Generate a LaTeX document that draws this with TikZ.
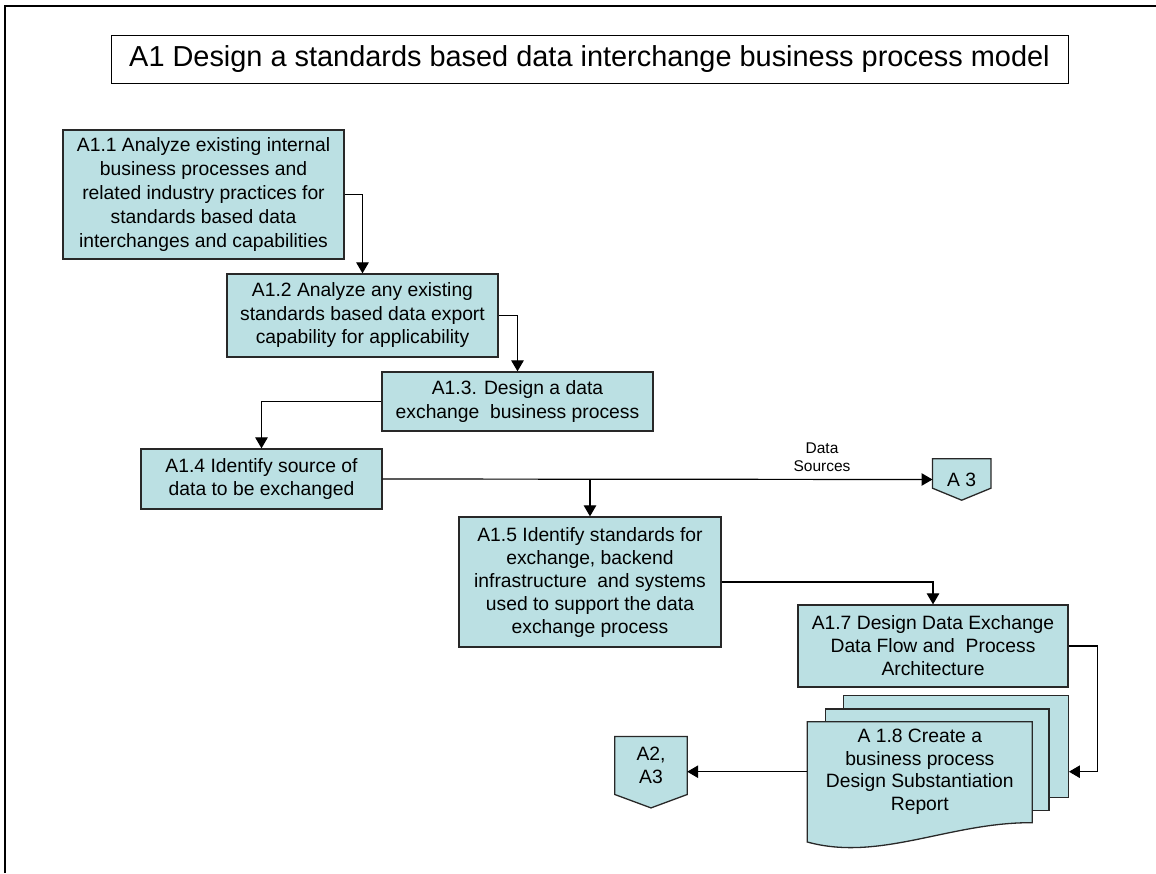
\documentclass[tikz,border=0pt]{standalone}
\usepackage{fontspec}
\setmainfont{Liberation Sans}
\usetikzlibrary{arrows.meta,backgrounds}
\definecolor{boxfill}{RGB}{187,224,227}
\definecolor{boxline}{RGB}{40,40,40}
\begin{document}
\begin{tikzpicture}[x=1pt,y=-1pt,
  proc/.style={draw=boxline, line width=1.3pt, fill=boxfill, align=center, inner sep=0pt,
    font=\fontsize{19.3}{23.5}\selectfont},
  plain/.style={align=center, inner sep=0pt, font=\fontsize{19.3}{23}\selectfont},
  shapefill/.style={draw=boxline, line width=1.3pt, fill=boxfill},
  conn/.style={line width=1.2pt, -{Triangle[length=11pt,width=12.5pt]}},
  lbl/.style={align=center, inner sep=0pt, font=\fontsize{15.5}{18.7}\selectfont}]
\useasboundingbox (0,0) rectangle (1156,873);
% outer frame
\draw[line width=2pt] (5,873) -- (5,6) -- (1156,6);
% title
\node[draw=black, line width=1pt, minimum width=957pt, minimum height=48pt, inner sep=0pt,
  font=\fontsize{28.9}{32}\selectfont] (title) at (589.5,59) {A1 Design a standards based data interchange business process model};
% process boxes
\node[proc, minimum width=281pt, minimum height=129pt, font=\fontsize{19.3}{24.2}\selectfont] (a11) at (203.5,194.5)
  {A1.1 Analyze existing internal\\business processes and\\related industry practices for\\standards based data\\interchanges and capabilities};
\node[proc, minimum width=271pt, minimum height=83pt] (a12) at (362.5,315.5)
  {A1.2 Analyze any existing\\standards based data export\\capability for applicability};
\node[proc, minimum width=271pt, minimum height=59pt] (a13) at (517.5,401.5)
  {A1.3. Design a data\\exchange\ \ business process};
\node[proc, minimum width=241pt, minimum height=60pt] (a14) at (261.5,479)
  {A1.4 Identify source of\\data to be exchanged};
\node[proc, minimum width=262pt, minimum height=130pt, font=\fontsize{19.3}{23}\selectfont] (a15) at (590,582)
  {A1.5 Identify standards for\\exchange, backend\\infrastructure\ \ and systems\\used to support the data\\exchange process};
\node[proc, minimum width=270pt, minimum height=82pt, font=\fontsize{19.3}{23}\selectfont] (a17) at (933,646)
  {A1.7 Design Data Exchange\\Data Flow and\ \ Process\\Architecture};
% off-page connectors
\node[plain, minimum width=58pt, minimum height=41pt] (a3) at (961.7,479.5) {A 3};
\node[plain, minimum width=72pt, minimum height=57.6pt, font=\fontsize{19.3}{22.7}\selectfont] (a23) at (651,765.5) {A2,\\A3};
\begin{scope}[on background layer]
\fill[white] (0,0) rectangle (1156,873);
\draw[shapefill] (a3.north west) -- (a3.north east) -- ([yshift=12pt]a3.south east)
  -- (a3.south) -- ([yshift=12pt]a3.south west) -- cycle;
\draw[shapefill] (a23.north west) -- (a23.north east) -- (a23.south east)
  -- ([yshift=-13.4pt]a23.south) -- (a23.south west) -- cycle;
\end{scope}
% multi-document A1.8
\node[shapefill, minimum width=225pt, minimum height=101.6pt, inner sep=0pt] (a18c) at (955.8,746.5) {};
\node[shapefill, minimum width=223.3pt, minimum height=101.7pt, inner sep=0pt] (a18b) at (937.35,759.85) {};
\path[shapefill] (807.3,721.7) -- (1032.3,721.7) -- (1032.3,822.7)
  .. controls (950,822) and (880,862) .. (807.3,842) -- cycle;
\node[plain, minimum width=225pt, minimum height=100pt, font=\fontsize{19.3}{22.8}\selectfont] (a18) at (919.8,771.7)
  {A 1.8 Create a\\business process\\Design Substantiation\\Report};
% connectors
\draw[conn] (a11.east) -| (a12.north);
\draw[conn] (a12.east) -| (a13.north);
\draw[conn] (a13.west) -| (a14.north);
\draw[conn] (a14.east) -- (a3.west);
\draw[conn] (a14.east -| a15.north) -- (a15.north);
\node[lbl] (ds) at (822,457.3) {Data\\Sources};
\draw[conn] (a15.east) -| (a17.north);
\coordinate (turn) at (1097.8,0);
\draw[conn] (a17.east) -- (a17.east -| turn) |- (a18c.east |- a18.west);
\draw[conn] (a18.west) -- (a23.east |- a18.west);
\end{tikzpicture}
\end{document}
